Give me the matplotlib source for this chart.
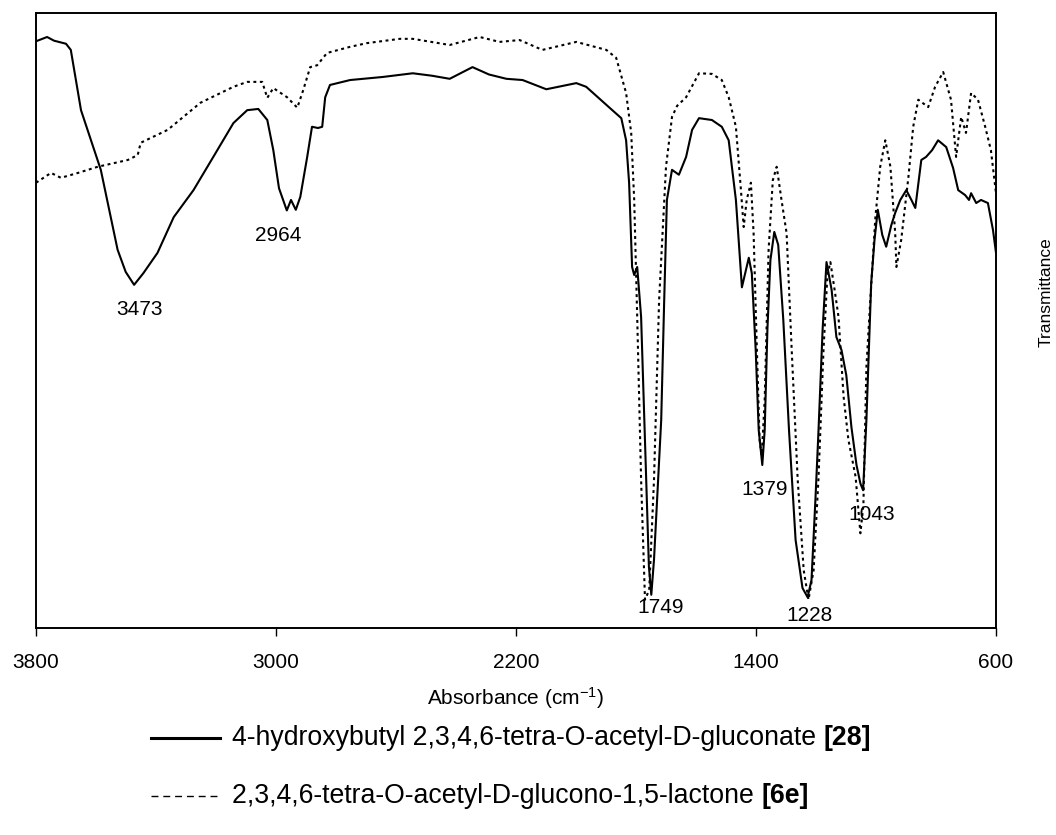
import matplotlib
matplotlib.use("Agg")
import matplotlib.pyplot as plt
from matplotlib.lines import Line2D

plt.rcParams['font.family'] = ['Liberation Sans', 'DejaVu Sans']
plt.rcParams['mathtext.fontset'] = 'custom'
plt.rcParams['mathtext.rm'] = 'Liberation Sans'
plt.rcParams['mathtext.it'] = 'Liberation Sans:italic'
plt.rcParams['mathtext.bf'] = 'Liberation Sans:bold'

# IR spectrum of 4-hydroxybutyl 2,3,4,6-tetra-O-acetyl-D-gluconate [28]
gluconate_wn = [3800, 3763, 3740, 3700, 3684, 3650, 3584, 3528, 3501, 3473, 3442, 3395,
                3341, 3275, 3209, 3142, 3096, 3059, 3029, 3009, 2990, 2964, 2950, 2934,
                2919, 2896, 2880, 2860, 2846, 2836, 2820, 2753, 2644, 2544, 2480, 2421,
                2345, 2290, 2232, 2178, 2099, 1999, 1966, 1879, 1849, 1833, 1823, 1813,
                1806, 1796, 1783, 1766, 1757, 1749, 1740, 1716, 1706, 1697, 1680, 1657,
                1633, 1613, 1590, 1547, 1514, 1491, 1467, 1447, 1424, 1414, 1401, 1391,
                1379, 1371, 1362, 1352, 1339, 1326, 1309, 1290, 1268, 1245, 1228, 1215,
                1202, 1192, 1178, 1165, 1148, 1132, 1115, 1099, 1082, 1065, 1052, 1043,
                1032, 1016, 1005, 994, 979, 966, 949, 936, 919, 899, 882, 869, 849, 833,
                813, 793, 766, 743, 726, 703, 690, 683, 666, 650, 627, 610, 600]
gluconate_t = [95.4, 96.1, 95.5, 95.0, 94.0, 84.2, 74.5, 61.5, 57.9, 55.8, 57.7, 61.0,
               66.8, 71.2, 76.6, 82.1, 84.2, 84.4, 82.6, 77.7, 71.5, 67.9, 69.6, 68.0,
               70.1, 76.6, 81.5, 81.3, 81.5, 86.3, 88.3, 89.1, 89.6, 90.2, 89.8, 89.3,
               91.2, 90.0, 89.3, 89.1, 87.6, 88.6, 88.0, 84.2, 82.9, 79.3, 72.4, 58.7,
               57.4, 58.7, 50.6, 24.1, 10.0, 5.4, 11.1, 33.8, 53.3, 69.6, 74.5, 73.7,
               76.6, 81.0, 82.9, 82.6, 81.5, 79.3, 69.6, 55.4, 60.2, 57.7, 45.2, 32.2,
               26.5, 32.2, 48.5, 59.8, 64.4, 62.3, 50.1, 32.2, 14.3, 6.5, 5.0, 7.8,
               20.8, 31.7, 48.5, 59.5, 55.0, 47.3, 45.2, 41.1, 32.7, 26.5, 23.5, 22.4,
               33.8, 56.1, 63.1, 68.0, 63.9, 62.0, 65.5, 67.5, 69.6, 71.2, 69.6, 68.3,
               76.1, 76.6, 77.7, 79.3, 78.2, 74.8, 71.2, 70.4, 69.6, 70.7, 69.1, 69.6,
               69.1, 64.7, 61.0]

# IR spectrum of 2,3,4,6-tetra-O-acetyl-D-glucono-1,5-lactone [6e]
lactone_wn = [3800, 3750, 3717, 3660, 3594, 3494, 3461, 3451, 3361, 3252, 3142, 3096,
              3046, 3029, 3009, 2963, 2929, 2909, 2886, 2863, 2830, 2753, 2697, 2587,
              2544, 2421, 2321, 2255, 2188, 2112, 1999, 1899, 1866, 1833, 1816, 1806,
              1796, 1783, 1770, 1756, 1740, 1723, 1700, 1680, 1663, 1633, 1590, 1547,
              1514, 1491, 1467, 1451, 1441, 1431, 1417, 1408, 1398, 1388, 1381, 1371,
              1358, 1344, 1331, 1315, 1298, 1281, 1261, 1241, 1225, 1208, 1192, 1175,
              1162, 1152, 1138, 1125, 1108, 1092, 1068, 1052, 1042, 1032, 1019, 1002,
              986, 969, 952, 936, 932, 916, 892, 876, 859, 826, 803, 776, 750, 733,
              716, 700, 683, 660, 636, 617, 600]
lactone_t = [72.4, 74.0, 73.2, 74.0, 75.0, 76.1, 76.9, 78.9, 81.0, 85.4, 88.0, 88.8,
             88.8, 86.2, 87.8, 86.3, 84.6, 87.5, 91.2, 91.5, 93.5, 94.5, 95.1, 95.8,
             95.8, 94.8, 96.1, 95.3, 95.6, 94.0, 95.3, 94.0, 92.7, 87.0, 80.5, 69.6,
             50.6, 24.1, 4.6, 6.2, 24.1, 53.3, 75.0, 83.1, 84.9, 86.3, 90.2, 90.1,
             89.1, 86.3, 81.5, 71.7, 65.2, 69.6, 72.4, 64.2, 46.8, 30.6, 28.1, 37.1,
             61.5, 72.8, 75.0, 69.6, 64.2, 45.2, 24.1, 9.4, 4.6, 9.4, 24.1, 45.2,
             57.4, 59.5, 55.0, 50.6, 37.6, 30.6, 24.6, 15.4, 20.0, 42.4, 53.3, 66.8,
             75.0, 79.3, 75.0, 64.2, 58.7, 63.1, 73.3, 81.5, 85.9, 84.7, 88.0, 90.4,
             85.9, 76.6, 83.1, 80.5, 87.0, 85.9, 81.5, 77.7, 70.7]

# Band assignments marked on the gluconate trace (wavenumber, label offset in px)
band_wn = [3473, 2964, 1749, 1379, 1228, 1043]
band_offsets = [(5, -25), (-9, -25), (9, -13), (2, -24), (2, -18), (9, -24)]

tick_values = [3800, 3000, 2200, 1400, 600]

W, H = 1056, 835
fig = plt.figure(figsize=(W / 100, H / 100), dpi=100)
ax = fig.add_axes([36 / W, 1 - 628 / H, 960 / W, 615 / H])

ax.plot(gluconate_wn, gluconate_t, color='black', lw=1.5, solid_joinstyle='round')
ax.plot(lactone_wn, lactone_t, color='black', lw=1.5, linestyle=(0, (1.4, 1.7)))

ax.set_xlim(3800, 600)
ax.set_ylim(0, 100)
ax.set_xticks(tick_values)
ax.set_xticklabels([str(v) for v in tick_values])
ax.set_yticks([])
ax.tick_params(axis='x', direction='out', length=6, width=1, labelsize=15, pad=12)
for sp in ax.spines.values():
    sp.set_linewidth(1.4)

lookup = dict(zip(gluconate_wn, gluconate_t))
for wn, (dx, dy) in zip(band_wn, band_offsets):
    ax.annotate(str(wn), xy=(wn, lookup[wn]), xytext=(dx, dy),
                textcoords='offset pixels', ha='center', va='center', fontsize=15)

fig.text(516 / W, 1 - 698 / H, 'Absorbance (cm$^{-1}$)', ha='center', va='center', fontsize=15)
fig.text(1046 / W, 1 - 292 / H, 'Transmittance', rotation=90, ha='center', va='center', fontsize=12.5)

# Legend drawn below the axes
entries = [
    ('-', 2.2, '4-hydroxybutyl 2,3,4,6-tetra-O-acetyl-D-gluconate ', '[28]', 738),
    ((0, (5, 3.5)), 1.0, '2,3,4,6-tetra-O-acetyl-D-glucono-1,5-lactone ', '[6e]', 796),
]
renderer = fig.canvas.get_renderer()
for ls, lw, plain, bold, ypx in entries:
    yy = 1 - ypx / H
    fig.add_artist(Line2D([151 / W, 220 / W], [yy, yy], color='black', lw=lw, linestyle=ls))
    t = fig.text(232 / W, yy, plain, ha='left', va='center', fontsize=19.2)
    bb = t.get_window_extent(renderer=renderer)
    fig.text(bb.x1 / W, yy, bold, ha='left', va='center', fontsize=19.2, fontweight='bold')

fig.savefig('out.png', dpi=100)
